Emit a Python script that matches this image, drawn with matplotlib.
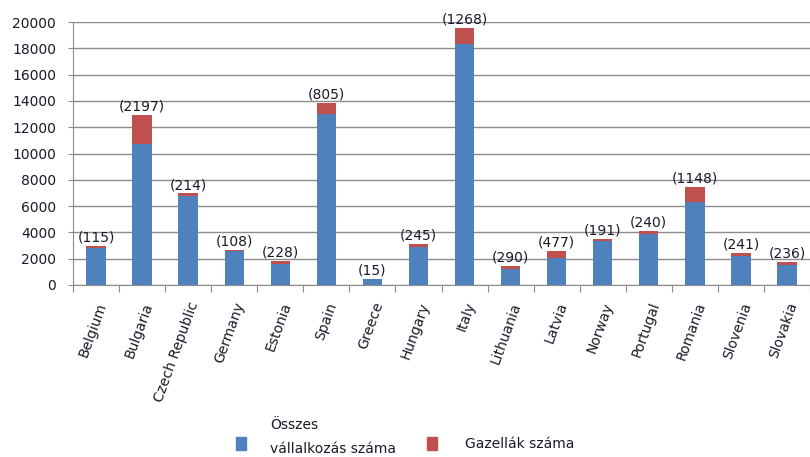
import matplotlib
matplotlib.use("Agg")
import matplotlib.pyplot as plt
from matplotlib.patches import Rectangle
import numpy as np

countries = ["Belgium", "Bulgaria", "Czech Republic", "Germany", "Estonia", "Spain",
             "Greece", "Hungary", "Italy", "Lithuania", "Latvia", "Norway",
             "Portugal", "Romania", "Slovenia", "Slovakia"]
total_companies = [2840, 10730, 6750, 2560, 1570, 13030, 460, 2870, 18300,
                   1180, 2090, 3330, 3850, 6330, 2200, 1490]
gazelles = [115, 2197, 214, 108, 228, 805, 15, 245, 1268,
            290, 477, 191, 240, 1148, 241, 236]
yticks = [0, 2000, 4000, 6000, 8000, 10000, 12000, 14000, 16000, 18000, 20000]

BLUE = "#4F81BD"
RED = "#C0504D"
GRID = "#8C8C8C"
TXT = "#1a1a2a"

plt.rcParams['font.family'] = ['DejaVu Sans']
fig = plt.figure(figsize=(8.1, 4.57), dpi=100)
ax = fig.add_axes([73/810, 1-285/457, (810-73)/810, (285-22)/457])

x = np.arange(len(countries))
w = 0.42
ax.bar(x, total_companies, width=w, color=BLUE, zorder=3)
ax.bar(x, gazelles, width=w, bottom=total_companies, color=RED, zorder=3)

for xi, b, g in zip(x, total_companies, gazelles):
    ax.annotate(f"({g})", (xi, b + g), xytext=(0, 1), textcoords="offset points",
                ha="center", va="bottom", fontsize=10, color=TXT,
                annotation_clip=False, zorder=5)

ax.set_xlim(-0.5, len(countries) - 0.5)
ax.set_ylim(0, 20000)
ax.set_yticks(yticks)
ax.set_yticklabels([str(v) for v in yticks], fontsize=10, color=TXT)
ax.yaxis.grid(True, color=GRID, linewidth=1, zorder=0)
ax.set_axisbelow(True)

ax.set_xticks(np.arange(len(countries) + 1) - 0.5, minor=False)
ax.set_xticklabels([])
ax.set_xticks(x, minor=True)
ax.set_xticklabels(countries, minor=True, rotation=70, ha="right",
                   rotation_mode="anchor", fontsize=10, color=TXT)
ax.tick_params(axis="x", which="minor", length=0, pad=11)
ax.tick_params(axis="x", which="major", length=5, color=GRID, direction="out")
ax.tick_params(axis="y", length=3.6, color=GRID, direction="out", pad=8.5)

for s in ["top", "right"]:
    ax.spines[s].set_visible(False)
for s in ["left", "bottom"]:
    ax.spines[s].set_color(GRID)

# legend
def px(xp, yp):
    return xp / 810, 1 - yp / 457

fig.patches.append(Rectangle(px(236, 450), 10/810, 13/457, transform=fig.transFigure,
                             color=BLUE, figure=fig))
fig.patches.append(Rectangle(px(427, 450), 10/810, 13/457, transform=fig.transFigure,
                             color=RED, figure=fig))
fig.text(*px(270, 425), "Összes", fontsize=10, va="center", ha="left", color=TXT)
fig.text(*px(270, 449), "vállalkozás száma", fontsize=10, va="center", ha="left", color=TXT)
fig.text(*px(465, 444), "Gazellák száma", fontsize=10, va="center", ha="left", color=TXT)

fig.savefig("out.png", dpi=100)
